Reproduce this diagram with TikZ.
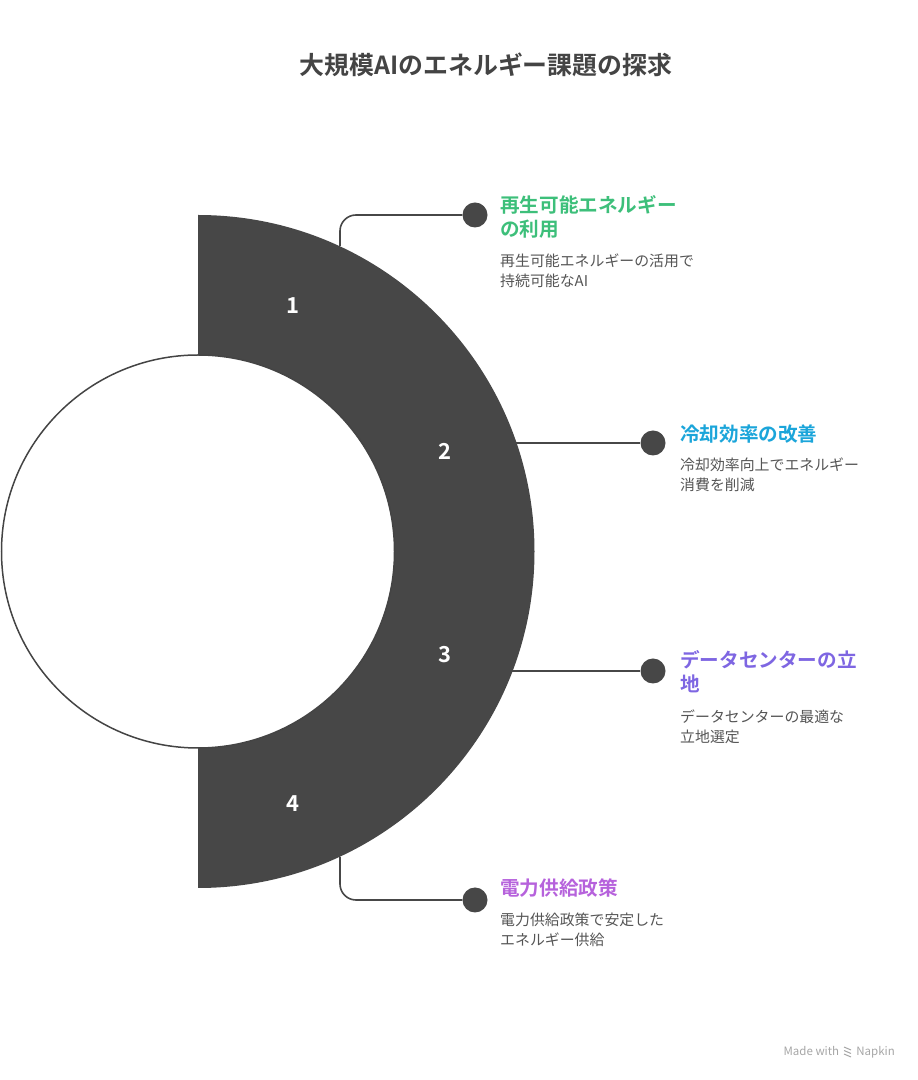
\documentclass[tikz,border=0pt]{standalone}
\usepackage{fontspec}
\setmainfont{Noto Sans CJK JP}[BoldFont={Noto Sans CJK JP Bold}]
\definecolor{segfill}{HTML}{474747}
\definecolor{headgray}{HTML}{444444}
\definecolor{textgray}{HTML}{555555}
\definecolor{cgreen}{HTML}{3DBF7A}
\definecolor{cblue}{HTML}{1BA5DA}
\definecolor{cviolet}{HTML}{7E66E2}
\definecolor{cmagenta}{HTML}{B662DC}
\tikzset{
  dot/.style={circle,fill=segfill,minimum size=25pt,inner sep=0pt},
  link/.style={draw=segfill,line width=1.6pt,rounded corners=16pt},
  num/.style={text=white,font=\fontsize{22}{26}\selectfont\bfseries},
  itemhead/.style={anchor=base west,inner sep=0pt,align=left,font=\fontsize{19.6}{24}\selectfont\bfseries},
  itemtext/.style={anchor=base west,inner sep=0pt,align=left,text=textgray,font=\fontsize{14.9}{20}\selectfont}
}
\begin{document}
\begin{tikzpicture}[x=1pt,y=1pt]
	\useasboundingbox (0,0) rectangle (918,1080);
	% title
	\node[anchor=base,inner sep=0pt,text=headgray,font=\fontsize{24.9}{28}\selectfont\bfseries] (title) at (486,1005) {大規模AIのエネルギー課題の探求};
	% half ring and inner circle
	\fill[segfill] (198,865) arc[start angle=90,end angle=-90,radius=336.5] -- (198,332) arc[start angle=-90,end angle=90,radius=196.5] -- cycle;
	\draw[headgray,line width=1.5pt,fill=white] (198,528.5) circle (196.5);
	% numbers
	\node[num] (n1) at (293,774) {1};
	\node[num] (n2) at (445,629) {2};
	\node[num] (n3) at (445,425) {3};
	\node[num] (n4) at (293,276) {4};
	% ends on the ring
	\coordinate (s1) at (340,834);
	\coordinate (s2) at (516,637);
	\coordinate (s3) at (512,409);
	\coordinate (s4) at (340,223);
	% dots
	\node[dot] (d1) at (475,865) {};
	\node[dot] (d2) at (653,637) {};
	\node[dot] (d3) at (653,409) {};
	\node[dot] (d4) at (475,180) {};
	% connectors
	\draw[link] (s1) |- (d1);
	\draw[link] (s2) -- (d2);
	\draw[link] (s3) -- (d3);
	\draw[link] (s4) |- (d4);
	% labels (base = last line)
	\node[itemhead,text=cgreen] (h1) at (500,843) {再生可能エネルギー\\の利用};
	\node[itemtext] (t1) at (500,793.5) {再生可能エネルギーの活用で\\持続可能なAI};
	\node[itemhead,text=cblue] (h2) at (680,638.5) {冷却効率の改善};
	\node[itemtext] (t2) at (680,589.5) {冷却効率向上でエネルギー\\消費を削減};
	\node[itemhead,text=cviolet] (h3) at (680,388) {データセンターの立\\地};
	\node[itemtext] (t3) at (680,337.5) {データセンターの最適な\\立地選定};
	\node[itemhead,text=cmagenta] (h4) at (500,184.5) {電力供給政策};
	\node[itemtext] (t4) at (500,134.5) {電力供給政策で安定した\\エネルギー供給};
	% watermark
	\node[anchor=base east,inner sep=0pt,text=black!35,font=\fontsize{11.5}{13}\selectfont] (wm) at (895,24) {Made with \hspace{12pt} Napkin};
	\draw[black!35,line width=1pt] (844,33) -- (851,30) (844,29.5) -- (851,26.5) (844,26) -- (851,23);
\end{tikzpicture}
\end{document}
